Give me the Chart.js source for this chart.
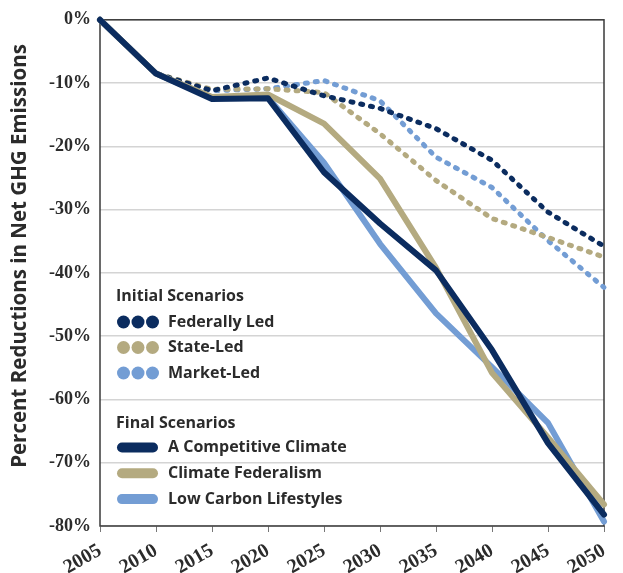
<!DOCTYPE html>
<html>
<head>
<meta charset="utf-8">
<script src="https://cdn.jsdelivr.net/npm/chart.js@4"></script>
<style>
  html, body { margin: 0; padding: 0; background: #fff; }
  #wrap { width: 623px; height: 573px; position: relative; }
</style>
</head>
<body>
<div id="wrap"><canvas id="myChart" width="623" height="573"></canvas></div>
<script>
const years = ["2005","2010","2015","2020","2025","2030","2035","2040","2045","2050"];

// initial scenarios (dotted)
const federallyLed = [0, -8.5, -11.2, -9.2, -12.0, -14.0, -17.2, -22.2, -30.4, -35.8];
const stateLed     = [0, -8.5, -11.0, -10.9, -11.5, -18.0, -25.4, -31.4, -34.4, -37.5];
const marketLed    = [0, -8.5, -11.2, -10.9, -9.6, -12.8, -21.7, -26.5, -34.9, -42.3];

// final scenarios (solid)
const competitive = [0, -8.5, -12.5, -12.4, -24.1, -32.2, -39.6, -52.2, -66.9, -78.2];
const federalism  = [0, -8.5, -12.2, -11.8, -16.4, -25.1, -39.2, -55.8, -66.0, -76.6];
const lowCarbon   = [0, -8.5, -12.3, -12.3, -22.6, -35.4, -46.4, -54.9, -63.7, -79.3];

const yTitle = "Percent Reductions in Net GHG Emissions";
const initialTitle = "Initial Scenarios";
const initialNames = ["Federally Led", "State-Led", "Market-Led"];
const finalTitle = "Final Scenarios";
const finalNames = ["A Competitive Climate", "Climate Federalism", "Low Carbon Lifestyles"];

const navy = "#0b2c5f";
const tan = "#b4aa80";
const blue = "#739dd4";
const txt = "#2b2b2b";

function solid(label, data, color){
    return { label, data, borderColor: color, borderWidth: 6, pointRadius: 0,
             tension: 0, borderCapStyle: "round", borderJoinStyle: "round", clip: false };
}
function dotted(label, data, color){
    return { label, data, borderColor: color, borderWidth: 5, pointRadius: 0,
             tension: 0, borderDash: [2, 8], borderCapStyle: "round", clip: false };
}

const datasets = [
    solid(finalNames[0], competitive, navy),
    solid(finalNames[1], federalism, tan),
    solid(finalNames[2], lowCarbon, blue),
    dotted(initialNames[0], federallyLed, navy),
    dotted(initialNames[1], stateLed, tan),
    dotted(initialNames[2], marketLed, blue)
];

// frame round the plot area + y title
const frame = {
    id: "frame",
    beforeDatasetsDraw(chart){
        const a = chart.chartArea, c = chart.ctx;
        c.save();
        c.strokeStyle = "#3a3a3a";
        c.lineWidth = 1.5;
        c.strokeRect(a.left, a.top, a.right - a.left, a.bottom - a.top);
        c.translate(20, 256);
        c.rotate(-Math.PI / 2);
        c.fillStyle = txt;
        c.textAlign = "center";
        c.textBaseline = "middle";
        c.font = "bold 20.5px 'Open Sans'";
        c.fillText(yTitle, 0, 0);
        c.restore();
    }
};

// two-group legend inside the plot
const groupLegend = {
    id: "groupLegend",
    afterDatasetsDraw(chart){
        const c = chart.ctx;
        const colors = [navy, tan, blue];
        c.save();
        c.fillStyle = txt;
        c.textBaseline = "middle";
        c.textAlign = "left";
        c.font = "bold 16px 'Open Sans'";
        c.fillText(initialTitle, 116, 296);
        c.fillText(finalTitle, 116, 423);
        for(let i = 0; i < 3; i++){
            let y = 322 + i * 25.5;
            c.fillStyle = colors[i];
            for(let k = 0; k < 3; k++){
                c.beginPath();
                c.arc(123.5 + k * 14.5, y, 6.5, 0, Math.PI * 2);
                c.fill();
            }
            c.fillStyle = txt;
            c.fillText(initialNames[i], 168, y);

            let y2 = 447.5 + i * 25.8;
            c.strokeStyle = colors[i];
            c.lineWidth = 10;
            c.lineCap = "round";
            c.beginPath();
            c.moveTo(122, y2);
            c.lineTo(153, y2);
            c.stroke();
            c.fillText(finalNames[i], 168, y2);
        }
        c.restore();
    }
};

const conf = {
    type: "line",
    data: { labels: years, datasets },
    options: {
        responsive: false,
        animation: false,
        layout: { padding: { top: 19, right: 10, left: 0, bottom: 0 } },
        plugins: { legend: { display: false }, tooltip: { enabled: false } },
        scales: {
            x: {
                offset: false,
                grid: { drawOnChartArea: false, drawTicks: true, tickLength: 6, color: "#777", lineWidth: 1 },
                border: { display: false },
                ticks: {
                    color: txt, maxRotation: 30, minRotation: 30, autoSkip: false, padding: 7,
                    font: { family: "Liberation Serif", weight: "bold", size: 20 }
                },
                afterFit(scale){ scale.height = 47; }
            },
            y: {
                min: -80, max: 0,
                grid: { color: "#d4d4d4", lineWidth: 1.5, drawTicks: false },
                border: { display: false },
                ticks: {
                    stepSize: 10, color: txt, padding: 9,
                    font: { family: "Liberation Serif", weight: "bold", size: 18 },
                    callback: v => v + "%"
                },
                afterFit(scale){ scale.width = 100; }
            }
        }
    },
    plugins: [frame, groupLegend]
};

new Chart(document.querySelector("#myChart"), conf);
</script>
</body>
</html>
